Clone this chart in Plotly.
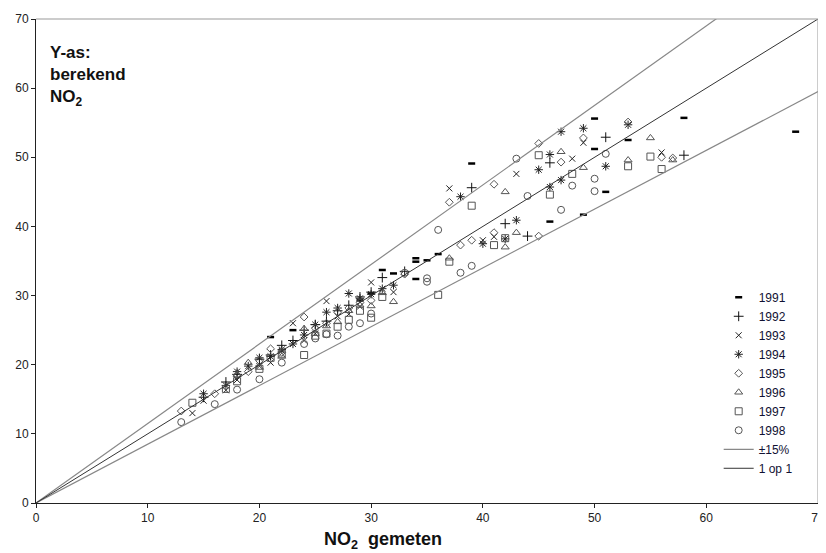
import plotly.graph_objects as go

# ---- data (NO2 gemeten, NO2 berekend) ----
x_1991 = [21, 23, 29, 30, 31, 32, 34, 34, 34, 35, 36, 39, 46, 49, 50, 50, 51, 53, 58, 68]
y_1991 = [24.0, 25.0, 29.3, 30.3, 33.7, 33.2, 35.4, 34.9, 32.4, 35.1, 36.0, 49.1, 40.7, 41.7, 55.6, 51.2, 45.0, 52.5, 55.7, 53.7]

x_1992 = [15, 17, 18, 20, 21, 22, 23, 24, 25, 26, 27, 28, 29, 30, 31, 33, 39, 42, 44, 46, 51, 58]
y_1992 = [15.3, 17.5, 18.6, 20.8, 21.4, 22.8, 23.5, 25.0, 25.8, 26.3, 27.8, 28.6, 29.8, 30.5, 32.6, 33.5, 45.6, 40.4, 38.6, 49.2, 52.9, 50.3]

x_1993 = [14, 15, 17, 18, 20, 21, 22, 23, 24, 25, 26, 27, 28, 29, 30, 32, 37, 40, 41, 43, 48, 49, 56]
y_1993 = [13.0, 14.8, 16.3, 17.8, 19.8, 20.3, 22.0, 26.0, 23.5, 24.5, 29.2, 27.0, 27.3, 28.4, 31.9, 30.5, 45.5, 38.0, 38.5, 47.6, 49.8, 52.1, 50.7]

x_1994 = [15, 17, 18, 19, 20, 21, 22, 23, 24, 25, 26, 27, 28, 29, 30, 31, 32, 38, 40, 42, 43, 45, 46, 46, 47, 47, 49, 51, 53]
y_1994 = [15.8, 17.0, 19.0, 19.8, 21.0, 21.2, 22.2, 23.0, 24.3, 25.8, 27.6, 28.2, 30.3, 29.6, 30.2, 31.0, 31.5, 44.3, 37.5, 38.2, 40.9, 48.2, 50.4, 45.7, 46.7, 53.7, 54.2, 48.7, 54.7]

x_1995 = [13, 16, 18, 19, 20, 21, 22, 24, 25, 26, 27, 28, 29, 30, 33, 37, 38, 39, 41, 41, 45, 45, 47, 49, 53, 56, 57]
y_1995 = [13.3, 15.8, 18.5, 19.0, 20.6, 22.3, 21.8, 26.9, 25.3, 26.0, 27.6, 28.2, 29.0, 29.3, 33.1, 43.5, 37.3, 38.0, 46.1, 39.1, 52.0, 38.6, 49.3, 52.8, 55.1, 50.0, 49.9]

x_1996 = [18, 19, 20, 22, 24, 25, 26, 27, 28, 29, 30, 31, 32, 37, 42, 42, 43, 47, 49, 53, 55, 57]
y_1996 = [18.5, 20.3, 19.6, 21.2, 25.2, 24.5, 25.6, 26.2, 27.8, 28.6, 28.5, 30.4, 29.1, 35.4, 45.0, 37.0, 39.1, 50.8, 48.5, 49.6, 52.8, 49.6]

x_1997 = [14, 17, 18, 20, 21, 22, 24, 25, 26, 27, 28, 29, 30, 31, 36, 37, 39, 41, 42, 45, 46, 48, 53, 55, 56]
y_1997 = [14.5, 16.5, 17.6, 19.4, 21.0, 21.6, 21.4, 24.2, 24.5, 25.5, 26.5, 27.8, 26.8, 29.8, 30.1, 34.9, 43.0, 37.3, 38.3, 50.3, 44.6, 47.6, 48.7, 50.1, 48.3]

x_1998 = [13, 16, 18, 20, 22, 24, 25, 26, 27, 28, 29, 30, 33, 35, 35, 36, 38, 39, 43, 44, 47, 48, 50, 50, 51]
y_1998 = [11.7, 14.3, 16.4, 17.9, 20.3, 23.0, 23.8, 24.4, 24.2, 25.5, 26.0, 27.4, 33.3, 32.5, 32.0, 39.5, 33.3, 34.3, 49.8, 44.4, 42.4, 45.9, 46.9, 45.1, 50.5]

years = ["1991", "1992", "1993", "1994", "1995", "1996", "1997", "1998"]
xs = [x_1991, x_1992, x_1993, x_1994, x_1995, x_1996, x_1997, x_1998]
ys = [y_1991, y_1992, y_1993, y_1994, y_1995, y_1996, y_1997, y_1998]

line_x = [0, 70]
factor_upper = 1.15
factor_lower = 0.85
x_ticks = [0, 10, 20, 30, 40, 50, 60, 70]
y_ticks = [0, 10, 20, 30, 40, 50, 60, 70]

# ---- styles ----
symbols = ["line-ew", "cross-thin", "x-thin", "asterisk", "diamond-open",
           "triangle-up-open", "square-open", "circle-open"]
sizes = [5, 7, 6, 7, 6, 7, 7, 7]
widths = [2.5, 1, 1, 1, 1, 1, 1, 1]
colors = ["#000000", "#111111", "#222222", "#222222", "#555555", "#555555", "#555555", "#555555"]

fig = go.Figure()
for yr, x, y, s, sz, w, c in zip(years, xs, ys, symbols, sizes, widths, colors):
    fig.add_trace(go.Scatter(
        x=x, y=y, mode="markers", name=yr,
        marker=dict(symbol=s, size=sz, color=c, line=dict(width=w, color=c)),
    ))

fig.add_trace(go.Scatter(x=line_x, y=[v * factor_upper for v in line_x], mode="lines",
                         name="±15%", legendgroup="pm", line=dict(color="#888888", width=1.2)))
fig.add_trace(go.Scatter(x=line_x, y=[v * factor_lower for v in line_x], mode="lines",
                         name="±15%", legendgroup="pm", showlegend=False,
                         line=dict(color="#888888", width=1.2)))
fig.add_trace(go.Scatter(x=line_x, y=line_x, mode="lines", name="1 op 1",
                         line=dict(color="#333333", width=1)))

tickfont = dict(family="Liberation Sans Narrow, Arial Narrow, Liberation Sans, Arial", size=12, color="#222222")

# page body has an 8px default margin: size the figure so the plot lands where the reference's is
fig.update_layout(
    width=826, height=545,
    margin=dict(l=28, r=16, t=11, b=50, autoexpand=False),
    plot_bgcolor="white", paper_bgcolor="white",
    font=dict(family="Liberation Sans, Arial", size=12, color="#111111"),
    showlegend=True,
    legend=dict(x=0.873, y=0.455, xanchor="left", yanchor="top",
                bgcolor="rgba(0,0,0,0)", font=dict(size=12, color="#111133"),
                itemwidth=30, tracegroupgap=0),
    xaxis=dict(range=[0, 70], tickvals=x_ticks, showgrid=False, zeroline=False,
               showline=True, linecolor="#222222", linewidth=1, ticks="outside",
               ticklen=4, tickcolor="#222222", tickfont=tickfont, automargin=False),
    yaxis=dict(range=[0, 70], tickvals=y_ticks, showgrid=False, zeroline=False,
               showline=True, linecolor="#222222", linewidth=1, ticks="outside",
               ticklen=4, tickcolor="#222222", tickfont=tickfont, automargin=False),
    shapes=[
        dict(type="line", xref="paper", yref="paper", x0=0, x1=1, y0=1, y1=1,
             line=dict(color="#999999", width=1)),
        dict(type="line", xref="paper", yref="paper", x0=1, x1=1, y0=0, y1=1,
             line=dict(color="#999999", width=1)),
    ],
    annotations=[
        dict(text="<b>Y-as:<br>berekend<br>NO<sub>2</sub></b>", xref="paper", yref="paper",
             x=0.015, y=0.955, xanchor="left", yanchor="top", showarrow=False, align="left",
             font=dict(size=17, color="#111111")),
        dict(text="<b>NO<sub>2</sub>  gemeten</b>", xref="paper", yref="paper",
             x=0.444, y=-0.078, xanchor="center", yanchor="middle", showarrow=False,
             font=dict(family="Liberation Sans Narrow, Arial Narrow, Liberation Sans", size=18, color="#111111")),
    ],
)

fig.write_html("out.html")
